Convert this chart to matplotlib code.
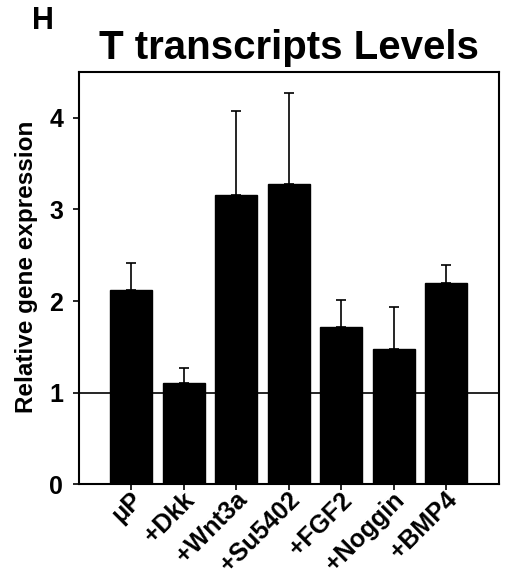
import matplotlib
matplotlib.use("Agg")
import matplotlib.pyplot as plt
import matplotlib.transforms as mtrans
from matplotlib import font_manager as fm

labels = ["μP", "+Dkk", "+Wnt3a", "+Su5402", "+FGF2", "+Noggin", "+BMP4"]
values = [2.12, 1.11, 3.16, 3.28, 1.72, 1.48, 2.20]
errors = [0.30, 0.16, 0.91, 0.99, 0.29, 0.46, 0.19]
yticks = [0, 1, 2, 3, 4]

names = {f.name for f in fm.fontManager.ttflist}
base = "Liberation Sans" if "Liberation Sans" in names else "DejaVu Sans"
plt.rcParams["font.family"] = [base, "DejaVu Sans"]

fig = plt.figure(figsize=(5.08, 5.86), dpi=100)
ax = fig.add_axes([0.1555, 0.1735, 0.8265, 0.7035])

x = list(range(len(labels)))
ax.bar(x, values, width=0.8, color="black", edgecolor="black", zorder=2)
ax.errorbar(x, values, yerr=[[0] * len(errors), errors], fmt="none",
            ecolor="black", elinewidth=1.2, capsize=3.5, capthick=1.2, zorder=1)
ax.axhline(1, color="black", linewidth=1.2, zorder=3)

ax.set_xlim(-1, 7)
ax.set_ylim(0, 4.5)
ax.set_yticks(yticks)
ax.set_xticks(x)
ax.set_xticklabels([])
# rotated labels, sitting a bit right of each tick like the original
shift = mtrans.ScaledTranslation(7 / 100, -12 / 100, fig.dpi_scale_trans)
for xi, lab in zip(x, labels):
    ax.text(xi, 0, lab, transform=ax.get_xaxis_transform() + shift,
            rotation=45, ha="right", va="center", rotation_mode="anchor",
            fontsize=18, fontweight="bold")
for t in ax.get_yticklabels():
    t.set_fontsize(18)
    t.set_fontweight("bold")
ax.tick_params(axis="both", direction="out", length=4.5, width=1.2, color="black")
ax.tick_params(axis="y", pad=7)
for s in ax.spines.values():
    s.set_linewidth(1.5)
    s.set_color("black")

fig.text(27 / 508, 1 - 267 / 586, "Relative gene expression", rotation=90,
         ha="center", va="center", fontsize=17.5, fontweight="bold")
fig.text(289 / 508, 1 - 59 / 586, "T transcripts Levels", ha="center",
         va="baseline", fontsize=29, fontweight="bold")
fig.text(32 / 508, 1 - 29 / 586, "H", ha="left", va="baseline",
         fontsize=22, fontweight="bold")

fig.savefig("out.png", dpi=100)
